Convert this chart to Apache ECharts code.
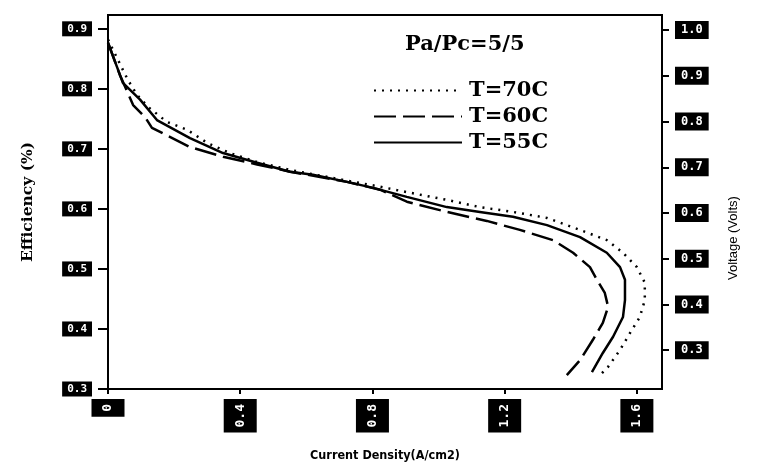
<!DOCTYPE html>
<html>
<head>
<meta charset="utf-8">
<script src="https://cdn.jsdelivr.net/npm/echarts@6/dist/echarts.min.js"></script>
<style>html,body{margin:0;padding:0;background:#fff;}#c{width:762px;height:469px;}</style>
</head>
<body>
<div id="c"></div>
<script>
// ---- data (current density A/cm2, efficiency fraction) ----
const xTicks = [0, 0.4, 0.8, 1.2, 1.6];
const effTicks = [0.3, 0.4, 0.5, 0.6, 0.7, 0.8, 0.9];
const voltTicks = [0.3, 0.4, 0.5, 0.6, 0.7, 0.8, 0.9, 1.0];
const seriesNames = ['T=70C', 'T=60C', 'T=55C'];

const t70Current = [0, 0.042, 0.06, 0.088, 0.121, 0.178, 0.239, 0.30, 0.369, 0.451, 0.551, 0.723, 0.823, 0.904, 1.025, 1.125, 1.225, 1.328, 1.428, 1.509, 1.558, 1.600, 1.624, 1.624, 1.609, 1.579, 1.549, 1.513, 1.488];
const t70Eff     = [0.882, 0.835, 0.815, 0.79, 0.77, 0.745, 0.732, 0.71, 0.693, 0.678, 0.665, 0.647, 0.637, 0.628, 0.615, 0.603, 0.595, 0.585, 0.565, 0.548, 0.527, 0.503, 0.477, 0.448, 0.42, 0.393, 0.365, 0.337, 0.323];

const t60Current = [0, 0.036, 0.076, 0.112, 0.133, 0.248, 0.348, 0.451, 0.551, 0.723, 0.823, 0.904, 1.025, 1.146, 1.246, 1.346, 1.407, 1.458, 1.479, 1.503, 1.513, 1.497, 1.467, 1.428, 1.388];
const t60Eff     = [0.877, 0.823, 0.773, 0.753, 0.735, 0.703, 0.687, 0.674, 0.662, 0.645, 0.632, 0.612, 0.595, 0.58, 0.565, 0.548, 0.527, 0.503, 0.482, 0.46, 0.437, 0.41, 0.382, 0.348, 0.323];

const t55Current = [0, 0.045, 0.097, 0.148, 0.248, 0.348, 0.451, 0.551, 0.62, 0.723, 0.802, 0.904, 1.025, 1.125, 1.225, 1.328, 1.428, 1.509, 1.549, 1.564, 1.564, 1.558, 1.528, 1.497, 1.464];
const t55Eff     = [0.877, 0.81, 0.782, 0.748, 0.718, 0.693, 0.677, 0.662, 0.657, 0.645, 0.635, 0.62, 0.603, 0.595, 0.587, 0.573, 0.553, 0.527, 0.503, 0.482, 0.448, 0.42, 0.387, 0.36, 0.328];

function pairs(xs, ys) { return xs.map((x, i) => [x, ys[i]]); }

const chart = echarts.init(document.getElementById('c'), null, {renderer: 'canvas'});

const boxLabel = {
  color: '#fff',
  backgroundColor: '#000',
  fontFamily: 'DejaVu Sans Mono',
  fontSize: 11,
  fontWeight: 'bold',
  padding: [2, 5, 2, 5]
};

const serifBold = 'DejaVu Serif';

chart.setOption({
  animation: false,
  backgroundColor: '#fff',
  grid: {left: 108, right: 100, top: 15, bottom: 80, show: true, borderColor: '#000', borderWidth: 2, backgroundColor: 'transparent'},
  title: {
    text: 'Pa/Pc=5/5', left: 400, top: 29,
    textStyle: {fontFamily: serifBold, fontWeight: 'bold', fontSize: 21, color: '#000'}
  },
  legend: {
    orient: 'vertical', left: 368, top: 75, itemWidth: 88, itemHeight: 14, itemGap: 5,
    data: seriesNames,
    itemStyle: {color: 'transparent', borderColor: 'transparent', borderWidth: 0, opacity: 0},
    textStyle: {fontFamily: serifBold, fontWeight: 'bold', fontSize: 21, color: '#000', padding: [0, 0, 0, 2]}
  },
  graphic: [
    {
      type: 'text', rotation: Math.PI / 2,
      style: {text: 'Voltage (Volts)', font: '13px "Liberation Sans"', fill: '#000'},
      position: [727, 280], origin: [0, 0]
    }
  ],
  xAxis: {
    type: 'value', min: 0, max: 1.676,
    name: 'Current Density(A/cm2)', nameLocation: 'middle', nameGap: 60,
    nameTextStyle: {fontFamily: '"DejaVu Sans Condensed", "Liberation Sans"', fontWeight: 'bold', fontSize: 12.5, color: '#000'},
    axisLine: {lineStyle: {color: '#000', width: 2}},
    axisTick: {show: true, customValues: xTicks, length: 5, lineStyle: {color: '#000', width: 2}},
    axisLabel: Object.assign({}, boxLabel, {customValues: xTicks, rotate: 90, margin: 10, fontSize: 13, padding: [10, 5, 10, 5],
      formatter: v => v === 0 ? '0' : v.toFixed(1)}),
    splitLine: {show: false}
  },
  yAxis: [
    {
      type: 'value', min: 0.3, max: 0.923, position: 'left',
      name: 'Efficiency (%)', nameLocation: 'middle', nameGap: 72, nameRotate: 90,
      nameTextStyle: {fontFamily: serifBold, fontWeight: 'bold', fontSize: 15.5, color: '#000'},
      axisLine: {show: true, lineStyle: {color: '#000', width: 2}},
      axisTick: {show: true, customValues: effTicks, length: 10, lineStyle: {color: '#000', width: 2}},
      axisLabel: Object.assign({}, boxLabel, {customValues: effTicks, margin: 16, formatter: v => v.toFixed(1)}),
      splitLine: {show: false}
    },
    {
      type: 'value', min: 0.215, max: 1.033, position: 'right',
      axisLine: {show: true, lineStyle: {color: '#000', width: 2}},
      axisTick: {show: true, customValues: voltTicks, length: 7, lineStyle: {color: '#000', width: 2}},
      axisLabel: Object.assign({}, boxLabel, {customValues: voltTicks, margin: 13, fontSize: 12, padding: [3, 6, 3, 6], formatter: v => v.toFixed(1)}),
      splitLine: {show: false}
    }
  ],
  series: [
    {name: seriesNames[0], type: 'line', yAxisIndex: 0, data: pairs(t70Current, t70Eff), showSymbol: false, symbol: 'none',
      lineStyle: {color: '#000', width: 2.5, type: [2, 6]}, itemStyle: {color: '#000'}},
    {name: seriesNames[1], type: 'line', yAxisIndex: 0, data: pairs(t60Current, t60Eff), showSymbol: false, symbol: 'none',
      lineStyle: {color: '#000', width: 2.5, type: [22, 7]}, itemStyle: {color: '#000'}},
    {name: seriesNames[2], type: 'line', yAxisIndex: 0, data: pairs(t55Current, t55Eff), showSymbol: false, symbol: 'none',
      lineStyle: {color: '#000', width: 2.5, type: 'solid'}, itemStyle: {color: '#000'}}
  ]
});
</script>
</body>
</html>
